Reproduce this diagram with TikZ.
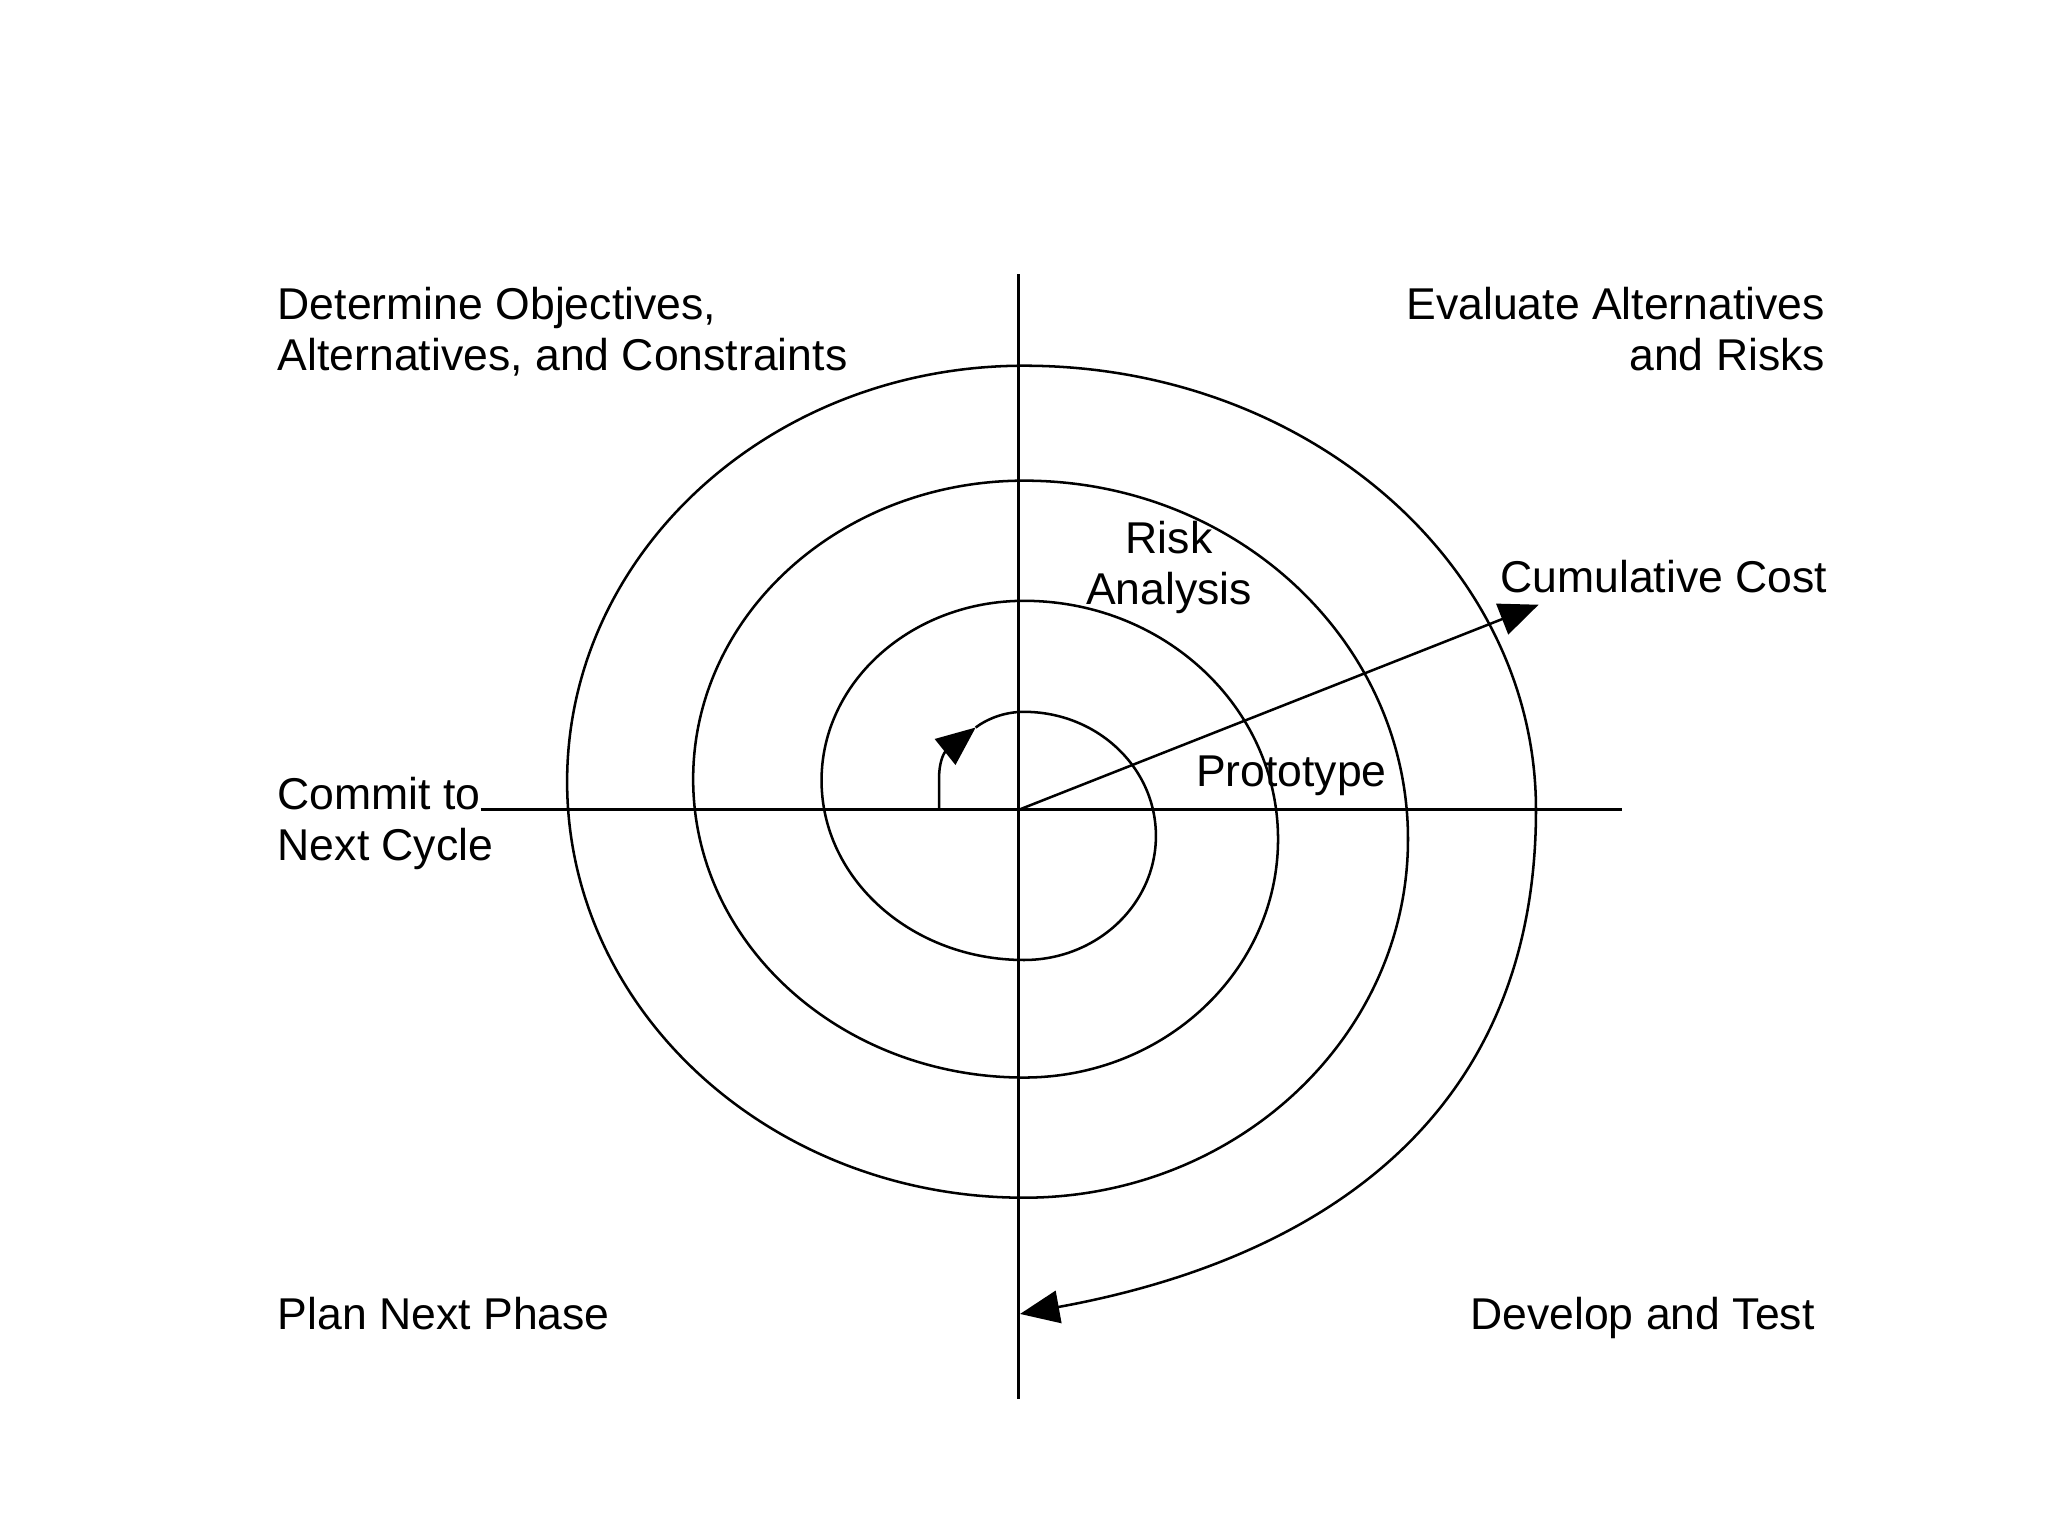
\documentclass[tikz,border=0pt]{standalone}
\usepackage{fontspec}
\setmainfont{Liberation Sans}
\usetikzlibrary{arrows.meta}
\begin{document}
\begin{tikzpicture}[x=0.01cm,y=-0.01cm,
  axis/.style={line width=0.7pt},
  spiral/.style={line width=0.55pt},
  tipped/.style={-{Triangle[length=0.3cm,width=0.25cm]}},
  lbl/.style={inner sep=0pt,font=\fontsize{9.7}{11}\selectfont}]
\fill[white] (0,0) rectangle (1568,1176);
\useasboundingbox (0,0) rectangle (1568,1176);

% axes
\coordinate (O) at (780,620);
\coordinate (axW) at (368,620);
\coordinate (axE) at (1242,620);
\coordinate (axN) at (780,210);
\coordinate (axS) at (780,1071);
\draw[axis] (axW) -- (axE);
\draw[axis] (axN) -- (axS);

% cumulative cost arrow
\coordinate (costTip) at (1178,463);
\draw[spiral,tipped] (O) -- (costTip);

% spiral
\coordinate (S0) at (719,620);
\coordinate (A) at (747,557);
\coordinate (T1) at (784,545);
\coordinate (R1) at (885,640);
\coordinate (B1) at (784,735);
\coordinate (L1) at (629,597.5);
\coordinate (T2) at (784,460);
\coordinate (R2) at (978.5,642.5);
\coordinate (B2) at (784,825);
\coordinate (L2) at (530.7,596.5);
\coordinate (T3) at (784,368);
\coordinate (R3) at (1078,642.5);
\coordinate (B3) at (784,917);
\coordinate (L3) at (434.2,598.5);
\coordinate (T4) at (784,280);
\coordinate (R4) at (1176,620);
\coordinate (E) at (781,1006);

\draw[spiral,tipped] (S0) -- (719,595) .. controls (719,585) and (722,577) .. (A);
\draw[spiral] (A) .. controls (755,551) and (768,545) .. (T1)
  .. controls (839.8,545) and (885,587.5) .. (R1)
  .. controls (885,692.5) and (839.8,735) .. (B1)
  .. controls (698.4,735) and (629,673.4) .. (L1)
  .. controls (629,521.6) and (698.4,460) .. (T2)
  .. controls (891.4,460) and (978.5,541.7) .. (R2)
  .. controls (978.5,743.3) and (891.4,825) .. (B2)
  .. controls (644.1,825) and (530.7,722.7) .. (L2)
  .. controls (530.7,470.3) and (644.1,368) .. (T3)
  .. controls (946.4,368) and (1078,490.9) .. (R3)
  .. controls (1078,794.1) and (946.4,917) .. (B3)
  .. controls (590.8,917) and (434.2,774.4) .. (L3)
  .. controls (434.2,422.6) and (590.8,280) .. (T4)
  .. controls (1000.9,280) and (1176,432.2) .. (R4);
\draw[spiral,tipped] (R4) .. controls (1176,870) and (990,968) .. (E);

% labels
\node[lbl,anchor=base west] (det1) at (212,245) {Determine Objectives,};
\node[lbl,anchor=base west] (det2) at (212,284) {Alternatives, and Constraints};
\node[lbl,anchor=base east] (eva1) at (1398,245) {Evaluate Alternatives};
\node[lbl,anchor=base east] (eva2) at (1398,284) {and Risks};
\node[lbl,anchor=base] (risk1) at (895,424) {Risk};
\node[lbl,anchor=base] (risk2) at (895,463) {Analysis};
\node[lbl,anchor=base west] (cost) at (1148,454) {Cumulative Cost};
\node[lbl,anchor=base west] (proto) at (915,602) {Prototype};
\node[lbl,anchor=base west] (commit1) at (212,620) {Commit to};
\node[lbl,anchor=base west] (commit2) at (212,659) {Next Cycle};
\node[lbl,anchor=base west] (plan) at (212,1018) {Plan Next Phase};
\node[lbl,anchor=base east] (dev) at (1390,1018) {Develop and Test};
\end{tikzpicture}
\end{document}
